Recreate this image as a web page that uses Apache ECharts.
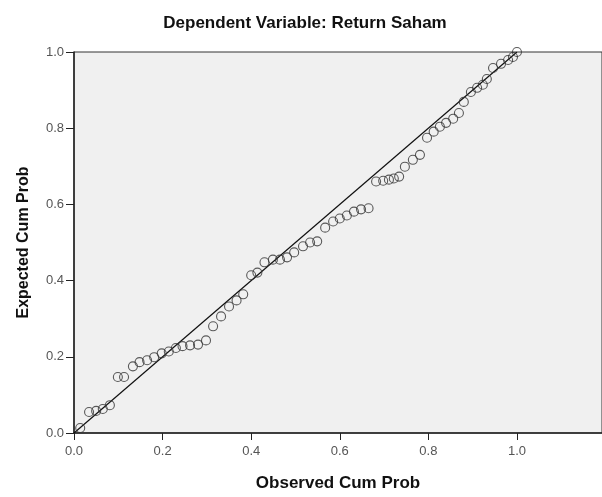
<!DOCTYPE html>
<html>
<head>
<meta charset="utf-8">
<script src="https://cdn.jsdelivr.net/npm/echarts@6/dist/echarts.min.js"></script>
<style>
  html, body { margin: 0; padding: 0; background: #fff; }
  #chart { width: 602px; height: 497px; }
</style>
</head>
<body>
<div id="chart"></div>
<script>
// observed cumulative probability (x) and expected cumulative probability (y)
const observedCum = [
  0.014, 0.034, 0.050, 0.065, 0.081, 0.099, 0.113, 0.133, 0.148, 0.165,
  0.181, 0.198, 0.214, 0.230, 0.245, 0.262, 0.280, 0.298, 0.314, 0.332,
  0.350, 0.367, 0.382, 0.400, 0.414, 0.430, 0.449, 0.465, 0.481, 0.497,
  0.517, 0.533, 0.549, 0.567, 0.585, 0.600, 0.616, 0.632, 0.648, 0.665,
  0.682, 0.698, 0.711, 0.722, 0.734, 0.747, 0.765, 0.781, 0.797, 0.812,
  0.826, 0.840, 0.856, 0.869, 0.880, 0.896, 0.910, 0.923, 0.932, 0.946,
  0.964, 0.980, 0.991, 1.000
]
const expectedCum = [
  0.013, 0.055, 0.058, 0.063, 0.073, 0.147, 0.147, 0.175, 0.186, 0.191,
  0.199, 0.209, 0.214, 0.223, 0.228, 0.230, 0.232, 0.243, 0.280, 0.306,
  0.332, 0.348, 0.364, 0.414, 0.421, 0.448, 0.455, 0.455, 0.461, 0.474,
  0.490, 0.500, 0.503, 0.539, 0.555, 0.563, 0.571, 0.581, 0.587, 0.590,
  0.660, 0.662, 0.665, 0.668, 0.673, 0.699, 0.717, 0.730, 0.775, 0.791,
  0.804, 0.814, 0.825, 0.840, 0.869, 0.895, 0.906, 0.914, 0.929, 0.958,
  0.969, 0.979, 0.987, 1.000
]
// reference line
const diagonal = [[0, 0], [1, 1]]

const chart = echarts.init(document.getElementById('chart'))
const fmt = v => v.toFixed(1)

const option = {
  backgroundColor: '#ffffff',
  animation: false,
  title: {
    text: 'Dependent Variable: Return Saham',
    left: 300,
    top: 10,
    textAlign: 'center',
    textStyle: {
      fontFamily: 'Liberation Sans',
      fontWeight: 'bold',
      fontSize: 17,
      color: '#111'
    }
  },
  grid: {
    left: 74,
    top: 52,
    right: -1,
    bottom: 63,
    show: true,
    backgroundColor: '#f0f0f0',
    borderColor: '#333',
    borderWidth: 1
  },
  xAxis: {
    type: 'value',
    min: 0,
    max: 1.192,
    interval: 0.2,
    name: 'Observed Cum Prob',
    nameLocation: 'middle',
    nameGap: 42,
    nameTextStyle: {
      fontFamily: 'Liberation Sans',
      fontWeight: 'bold',
      fontSize: 17,
      color: '#111'
    },
    axisLine: { show: true, lineStyle: { color: '#222', width: 1.5 } },
    axisTick: { show: true, length: 7, lineStyle: { color: '#222' } },
    axisLabel: {
      formatter: fmt,
      color: '#555',
      fontFamily: 'Liberation Sans',
      fontSize: 13,
      margin: 12,
      showMaxLabel: false
    },
    splitLine: { show: false }
  },
  yAxis: {
    type: 'value',
    min: 0,
    max: 1,
    interval: 0.2,
    name: 'Expected Cum Prob',
    nameLocation: 'middle',
    nameGap: 42,
    nameTextStyle: {
      fontFamily: 'Liberation Sans',
      fontWeight: 'bold',
      fontSize: 16,
      color: '#111'
    },
    axisLine: { show: true, lineStyle: { color: '#222', width: 1.5 } },
    axisTick: { show: true, length: 8, lineStyle: { color: '#222' } },
    axisLabel: {
      formatter: fmt,
      color: '#555',
      fontFamily: 'Liberation Sans',
      fontSize: 13,
      margin: 10
    },
    splitLine: { show: false }
  },
  series: [
    {
      type: 'line',
      data: diagonal,
      symbol: 'none',
      lineStyle: { color: '#111', width: 1.2 },
      z: 2
    },
    {
      type: 'scatter',
      data: observedCum.map((x, i) => [x, expectedCum[i]]),
      symbol: 'circle',
      symbolSize: 9,
      itemStyle: {
        color: 'rgba(0,0,0,0)',
        borderColor: '#333',
        borderWidth: 1.1
      },
      z: 3
    }
  ]
}

chart.setOption(option)
</script>
</body>
</html>
